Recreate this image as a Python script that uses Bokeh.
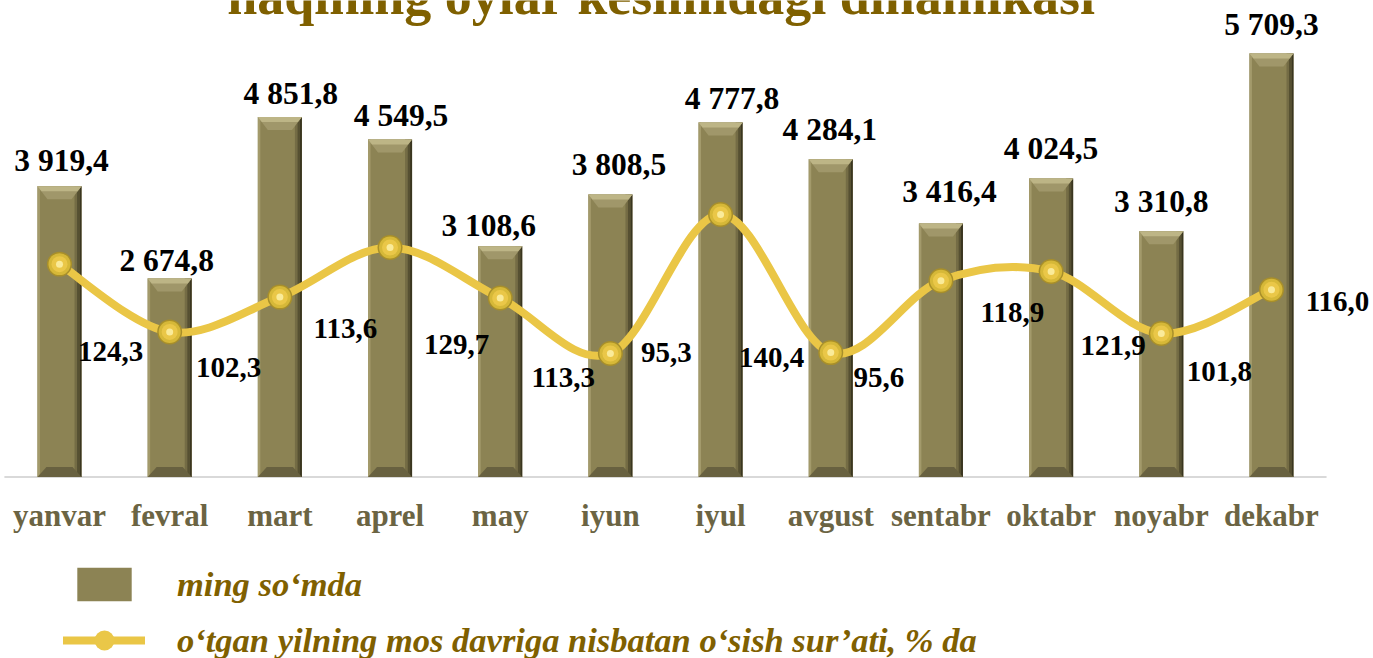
from bokeh.plotting import figure
from bokeh.models import Range1d, Legend, LegendItem, Label
from bokeh.embed import file_html
from bokeh.resources import INLINE
from bokeh.core.properties import value

# ---------------- data ----------------
months = ["yanvar", "fevral", "mart", "aprel", "may", "iyun",
          "iyul", "avgust", "sentabr", "oktabr", "noyabr", "dekabr"]
amount = [3919.4, 2674.8, 4851.8, 4549.5, 3108.6, 3808.5,
          4777.8, 4284.1, 3416.4, 4024.5, 3310.8, 5709.3]
growth = [124.3, 102.3, 113.6, 129.7, 113.3, 95.3,
          140.4, 95.6, 118.9, 121.9, 101.8, 116.0]

title_text = "haqining oylar kesimidagi dinamikasi"
legend_bar = "ming so‘mda"
legend_line = "o‘tgan yilning mos davriga nisbatan o‘sish sur’ati, % da"

# label placement (pixels) as in the original
bar_lab_dx = [2, -3, 11, 11, -11.5, 8.5, 11.5, -1, 8.5, 0, 0, 0]
bar_lab_gap = [15, 7, 13, 13, 10, 19, 13, 19, 21, 19, 19, 18]
line_lab_dx = [51, 59, 65.5, 66.5, 63, 56, 51, 48, 71.5, 62, 58, 66]
line_lab_dy = [87, 36, 31.5, 97.5, 79, -1, 143, 25, 32, 74, 38, 12]

# ---------------- figure ----------------
W, H = 1373, 658
X0, X1 = -0.5355, 11.926
Y0, Y1 = -2446.0, 6422.0
L0, L1 = -3.66, 209.84
ux = (X1 - X0) / W     # data units per px (x)
uy = (Y1 - Y0) / H     # data units per px (y)

p = figure(width=W, height=H, x_range=Range1d(X0, X1), y_range=Range1d(Y0, Y1),
           x_axis_type=None, y_axis_type=None, output_backend="svg",
           toolbar_location=None, min_border=0, outline_line_color=None)
p.extra_y_ranges = {"line": Range1d(L0, L1)}
p.grid.visible = False

xs = list(range(len(months)))
n = len(xs)
hw = 0.2  # half bar width

# axis line
p.segment(x0=[-0.5], y0=[0], x1=[n - 0.5], y1=[0], line_color="#D9D9D9", line_width=2)

# bars (bevelled look built from layers)
body = p.vbar(x=xs, top=amount, bottom=0, width=2 * hw, fill_color="#8C8354", line_color=None)
p.quad(left=[i - hw for i in xs], right=[i - hw + 2.5 * ux for i in xs],
       top=amount, bottom=0, fill_color="#A39A6B", line_color=None)
for a, b, c in [(7, 4.5, "#746C45"), (4.5, 2, "#565032"), (2, 0, "#3A3620")]:
    p.quad(left=[i + hw - a * ux for i in xs], right=[i + hw - b * ux for i in xs],
           top=amount, bottom=0, fill_color=c, line_color=None)
# top bevel
p.patches(xs=[[i - hw, i + hw, i + hw - 10 * ux, i - hw + 10 * ux] for i in xs],
          ys=[[a, a, a - 13 * uy, a - 13 * uy] for a in amount],
          fill_color="#A0976A", line_color=None)
p.patches(xs=[[i - hw, i + hw, i + hw - 4 * ux, i - hw + 4 * ux] for i in xs],
          ys=[[a, a, a - 5 * uy, a - 5 * uy] for a in amount],
          fill_color="#BDB586", line_color=None)
# bottom bevel
p.patches(xs=[[i - hw, i + hw, i + hw - 9 * ux, i - hw + 9 * ux] for i in xs],
          ys=[[0, 0, 10 * uy, 10 * uy] for _ in xs],
          fill_color="#686140", line_color=None)

# smooth line (Catmull-Rom style bezier segments)
def yv(k):
    return growth[min(max(k, 0), n - 1)]

def xv(k):
    return xs[min(max(k, 0), n - 1)]

bx0 = xs[:-1]; by0 = growth[:-1]; bx1 = xs[1:]; by1 = growth[1:]
cx0 = [xv(i) + (xv(i + 1) - xv(i - 1)) / 6 for i in range(n - 1)]
cy0 = [yv(i) + (yv(i + 1) - yv(i - 1)) / 6 for i in range(n - 1)]
cx1 = [xv(i + 1) - (xv(i + 2) - xv(i)) / 6 for i in range(n - 1)]
cy1 = [yv(i + 1) - (yv(i + 2) - yv(i)) / 6 for i in range(n - 1)]
line_r = p.bezier(x0=bx0, y0=by0, x1=bx1, y1=by1, cx0=cx0, cy0=cy0, cx1=cx1, cy1=cy1,
                  line_color="#EAC646", line_width=8, line_cap="round",
                  y_range_name="line")

# golden balls
p.scatter(xs, growth, size=25, fill_color="#A88F2A", line_color=None, y_range_name="line")
p.scatter(xs, growth, size=22, fill_color="#D6B838", line_color=None, y_range_name="line")
mark_r = p.scatter(xs, growth, size=16, fill_color="#EAC748", line_color=None, y_range_name="line")
p.scatter(xs, growth, size=7, fill_color="#FAEB9A", line_color=None, y_range_name="line")

# labels
BAR_FS = 31.5
bar_texts = [f"{v:,.1f}".replace(",", " ").replace(".", ",") for v in amount]
p.text(x=xs, y=amount, text=bar_texts, x_offset=bar_lab_dx,
       y_offset=[-(g + 0.338 * BAR_FS) for g in bar_lab_gap], text_align="center",
       text_baseline="middle",
       text_font=value("Liberation Serif"), text_font_style="bold",
       text_font_size=f"{BAR_FS}px", text_color="black")

line_texts = [f"{v:.1f}".replace(".", ",") for v in growth]
p.text(x=xs, y=growth, text=line_texts, x_offset=line_lab_dx, y_offset=line_lab_dy,
       text_align="center", text_baseline="middle",
       text_font=value("Liberation Serif"), text_font_style="bold",
       text_font_size="29px", text_color="black", y_range_name="line")

p.text(x=xs, y=[0] * n, text=months, y_offset=38, text_align="center",
       text_baseline="middle", text_font=value("Liberation Serif"),
       text_font_style="bold", text_font_size="31px", text_color="#6B6443")

# title (second line, partly cut off at the top as in the original)
p.add_layout(Label(x=661, y=662.5, x_units="screen", y_units="screen", text=title_text,
                   text_align="center", text_baseline="middle",
                   text_font="Liberation Serif", text_font_style="bold",
                   text_font_size="54px", text_color="#7F6000"))

# legends
common = dict(orientation="vertical", padding=0, margin=0, spacing=0,
              border_line_color=None, background_fill_alpha=0,
              label_text_font="Liberation Serif", label_text_font_style="bold italic",
              label_text_font_size="34.5px", label_text_color="#7F6000")
leg1 = Legend(items=[LegendItem(label=legend_bar, renderers=[body])],
              location=(70, 53), glyph_width=68, glyph_height=42, label_standoff=39, **common)
leg2 = Legend(items=[LegendItem(label=legend_line, renderers=[line_r, mark_r])],
              location=(63, -7), glyph_width=82, glyph_height=50, label_standoff=32, **common)
p.add_layout(leg1)
p.add_layout(leg2)

open("out.html", "w").write(file_html(p, INLINE))
